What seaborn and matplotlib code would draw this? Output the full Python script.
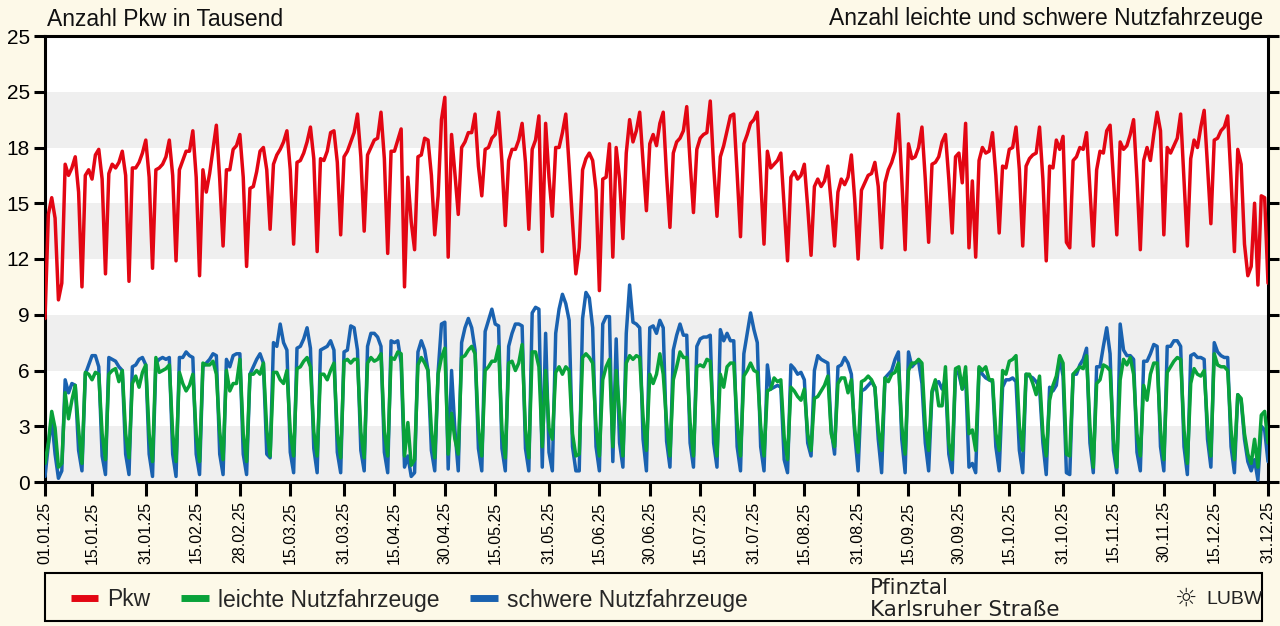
import matplotlib
matplotlib.use("Agg")
import matplotlib.pyplot as plt
import matplotlib.dates as mdates
from matplotlib.lines import Line2D
from matplotlib.patches import Rectangle
import pandas as pd
import seaborn as sns

# ---------------- data (daily values, 01.01.2025 - 31.12.2025) ----------------
pkw = [
    8.8, 14.4, 15.3, 14.2, 9.8,
    10.7, 17.1, 16.5, 16.9, 17.5, 15.6, 10.5,
    16.5, 16.8, 16.3, 17.6, 17.9, 16.3, 11.2,
    16.6, 17.1, 16.9, 17.2, 17.8, 16.5, 10.8,
    16.9, 16.9, 17.2, 17.7, 18.4, 16.4, 11.5,
    16.8, 16.9, 17.1, 17.5, 18.4, 16.5, 11.9,
    16.8, 17.3, 17.8, 17.8, 18.9, 16.4, 11.1,
    16.8, 15.6, 16.6, 17.9, 19.2, 16.3, 12.7,
    16.8, 16.8, 17.9, 18.1, 18.7, 16.4, 11.6,
    15.8, 15.9, 16.7, 17.8, 18.0, 16.8, 13.6,
    17.1, 17.6, 17.9, 18.3, 18.9, 16.8, 12.8,
    17.2, 17.3, 17.7, 18.3, 19.1, 17.4, 12.4,
    17.4, 17.3, 17.8, 18.8, 18.9, 17.2, 13.3,
    17.5, 17.8, 18.3, 18.8, 19.8, 17.5, 13.5,
    17.6, 18.0, 18.4, 18.5, 19.9, 17.4, 12.3,
    17.8, 17.8, 18.4, 19.0, 10.5, 16.4, 14.0,
    12.5, 17.5, 17.6, 18.5, 18.4, 16.5, 13.3,
    15.4, 19.5, 20.7, 12.1, 18.7, 16.6, 14.4,
    18.0, 18.3, 18.8, 18.8, 19.8, 17.0, 15.4,
    17.9, 18.0, 18.5, 18.7, 19.9, 17.2, 13.8,
    17.3, 17.9, 17.9, 18.4, 19.3, 17.2, 13.6,
    17.9, 18.4, 19.7, 12.4, 19.3, 16.4, 14.3,
    18.0, 18.0, 18.8, 19.8, 17.0, 14.0, 11.2,
    12.6, 16.8, 17.4, 17.7, 17.3, 15.7, 10.3,
    16.3, 16.4, 18.2, 12.1, 18.0, 16.3, 13.1,
    17.7, 19.5, 18.3, 18.9, 19.9, 17.2, 14.6,
    18.2, 18.7, 18.1, 19.3, 19.9, 16.5, 13.7,
    17.7, 18.3, 18.5, 18.9, 20.2, 17.2, 14.5,
    17.9, 18.5, 18.7, 18.8, 20.5, 17.0, 14.3,
    17.5, 18.1, 18.9, 19.7, 19.8, 16.6, 13.2,
    18.2, 18.7, 19.3, 19.5, 19.9, 16.3, 12.8,
    17.8, 16.9, 17.1, 17.3, 17.7, 14.8, 11.9,
    16.4, 16.7, 16.3, 16.5, 17.1, 14.8, 12.2,
    15.9, 16.3, 15.9, 16.2, 17.0, 15.0, 12.7,
    15.6, 16.3, 16.0, 16.4, 17.6, 15.2, 12.0,
    15.7, 16.1, 16.5, 16.6, 17.2, 15.9, 12.6,
    16.1, 16.8, 17.2, 17.8, 19.8, 16.3, 12.5,
    18.2, 17.4, 17.5, 18.0, 19.1, 16.3, 12.9,
    17.1, 17.2, 17.5, 18.3, 18.7, 16.3, 13.4,
    17.5, 17.7, 16.1, 19.3, 12.6, 16.2, 12.1,
    17.3, 18.0, 17.7, 17.8, 18.8, 16.5, 13.4,
    17.0, 16.9, 17.9, 18.0, 19.1, 16.8, 12.7,
    17.0, 17.4, 17.6, 17.7, 19.1, 16.3, 11.9,
    17.0, 16.9, 18.4, 17.9, 18.6, 12.9, 12.6,
    17.3, 17.5, 18.0, 17.9, 18.8, 15.7, 12.7,
    16.8, 17.8, 17.7, 18.9, 19.2, 16.3, 13.3,
    18.3, 17.9, 18.1, 18.7, 19.5, 16.3, 12.5,
    17.3, 18.0, 17.3, 18.7, 19.9, 18.9, 13.3,
    18.0, 17.7, 18.1, 18.5, 19.8, 16.3, 12.7,
    17.4, 18.4, 18.0, 19.1, 20.0, 17.0, 13.9,
    18.4, 18.5, 18.9, 19.1, 19.7, 16.3, 12.4,
    17.9, 17.1, 12.8, 11.1, 11.6, 15.0, 10.6,
    15.4, 15.3, 10.7,
]

leichte = [
    1.0, 2.1, 3.8, 2.9, 0.8,
    1.0, 4.8, 3.4, 4.4, 5.2, 2.8, 1.0,
    5.9, 5.8, 5.5, 5.9, 5.8, 2.6, 1.2,
    5.8, 6.0, 6.1, 5.4, 6.0, 2.6, 1.3,
    5.3, 5.7, 5.1, 5.9, 6.3, 2.6, 1.1,
    6.7, 5.9, 6.0, 6.1, 6.3, 2.6, 1.1,
    5.9, 5.3, 4.9, 5.2, 5.8, 2.6, 1.1,
    6.4, 6.3, 6.3, 6.5, 5.8, 2.7, 1.2,
    6.0, 4.9, 5.3, 5.3, 6.6, 2.6, 1.1,
    5.8, 5.8, 6.0, 5.8, 6.4, 2.8, 1.4,
    5.9, 5.9, 5.5, 5.3, 6.0, 2.7, 1.4,
    6.1, 6.2, 6.5, 6.7, 6.2, 2.7, 1.4,
    5.8, 5.8, 5.5, 6.0, 6.4, 2.6, 1.3,
    6.5, 6.6, 6.4, 6.6, 6.6, 2.7, 1.3,
    6.4, 6.7, 6.5, 6.6, 6.9, 2.7, 1.4,
    6.7, 6.6, 7.0, 6.9, 1.4, 3.2, 0.9,
    1.2, 6.3, 6.7, 6.4, 6.0, 2.8, 1.3,
    5.8, 6.7, 7.2, 1.5, 3.7, 2.3, 1.5,
    6.7, 6.8, 7.1, 7.3, 6.9, 2.9, 1.4,
    6.0, 6.2, 6.5, 6.5, 7.3, 2.8, 1.3,
    6.4, 6.5, 6.0, 6.4, 7.4, 2.8, 1.3,
    7.0, 7.0, 6.2, 1.9, 6.0, 2.9, 2.3,
    5.9, 6.2, 5.8, 6.2, 6.0, 2.6, 1.4,
    1.5, 6.7, 6.9, 6.7, 6.4, 3.0, 1.4,
    5.5, 6.2, 6.6, 1.9, 6.0, 3.7, 1.4,
    6.4, 6.8, 6.6, 6.8, 6.7, 3.5, 1.7,
    5.8, 5.3, 5.8, 6.9, 5.8, 3.2, 1.4,
    5.5, 6.2, 7.0, 6.7, 6.7, 3.2, 1.4,
    6.2, 6.3, 6.2, 6.6, 6.5, 3.2, 1.4,
    5.8, 5.1, 6.2, 6.4, 6.4, 3.2, 1.4,
    5.7, 6.0, 6.4, 6.0, 5.9, 3.0, 1.4,
    4.9, 5.0, 5.6, 5.4, 5.5, 2.4, 1.2,
    5.1, 4.9, 4.6, 4.4, 5.0, 2.6, 1.7,
    4.5, 4.6, 4.9, 5.2, 5.7, 2.6, 1.9,
    5.3, 5.6, 5.6, 4.8, 5.5, 2.8, 1.6,
    5.4, 5.5, 5.7, 5.5, 5.1, 2.8, 1.7,
    5.6, 5.4, 5.8, 5.9, 6.4, 3.0, 1.5,
    6.0, 6.4, 6.4, 6.6, 6.4, 3.0, 1.7,
    4.9, 5.5, 4.1, 4.1, 6.2, 2.1, 1.2,
    6.1, 6.2, 5.0, 6.2, 2.6, 2.8, 1.7,
    6.2, 6.0, 6.2, 5.5, 5.5, 2.6, 1.7,
    6.0, 5.8, 6.5, 6.6, 6.8, 3.0, 1.7,
    5.8, 5.8, 5.3, 4.7, 5.7, 2.6, 1.4,
    4.4, 5.2, 5.7, 6.8, 6.4, 1.5, 1.4,
    5.8, 6.0, 6.2, 6.1, 6.8, 3.0, 0.8,
    5.3, 5.5, 6.3, 6.2, 6.0, 2.3, 0.8,
    5.5, 6.6, 6.3, 6.7, 5.8, 2.6, 1.4,
    5.2, 4.4, 5.8, 6.4, 6.4, 2.8, 1.2,
    5.9, 6.2, 6.5, 6.7, 6.6, 2.8, 1.0,
    5.3, 6.1, 5.8, 5.7, 6.0, 3.0, 1.4,
    6.9, 6.3, 6.2, 6.2, 6.0, 2.8, 1.2,
    4.7, 4.5, 2.6, 1.5, 1.0, 2.3, 0.8,
    3.6, 3.8, 2.1,
]

schwere = [
    0.3, 2.0, 3.4, 1.5, 0.2,
    0.6, 5.5, 4.8, 5.3, 5.2, 1.7, 0.6,
    5.8, 6.3, 6.8, 6.8, 6.2, 1.4, 0.4,
    6.7, 6.6, 6.5, 6.2, 6.0, 1.5, 0.4,
    6.2, 6.3, 6.6, 6.7, 6.3, 1.5, 0.3,
    6.4, 6.6, 6.7, 6.6, 6.7, 1.5, 0.3,
    6.7, 6.7, 7.0, 6.8, 6.7, 1.5, 0.4,
    6.2, 6.4, 6.6, 6.9, 6.8, 1.5, 0.4,
    6.6, 6.2, 6.8, 6.9, 6.9, 1.5, 0.4,
    5.8, 6.2, 6.6, 6.9, 6.4, 1.5, 1.3,
    7.5, 7.3, 8.5, 7.5, 7.1, 1.6, 0.5,
    7.2, 7.3, 7.7, 8.3, 7.2, 1.8, 0.5,
    7.1, 7.2, 7.3, 7.6, 7.1, 1.6, 0.5,
    7.0, 7.1, 8.4, 8.3, 7.1, 1.7, 0.6,
    7.3, 8.0, 8.0, 7.8, 7.3, 1.6, 0.5,
    7.6, 7.5, 7.6, 6.4, 0.8, 1.4, 0.3,
    0.5, 7.0, 7.6, 7.1, 6.0, 1.7, 0.6,
    5.9, 8.5, 8.6, 0.7, 6.0, 2.8, 0.6,
    7.5, 8.3, 8.8, 8.3, 7.1, 1.8, 0.6,
    8.1, 8.7, 9.3, 8.5, 8.4, 1.8, 0.6,
    7.3, 8.0, 8.5, 8.5, 8.4, 1.8, 0.6,
    9.1, 9.4, 9.3, 0.8, 8.0, 1.6, 0.6,
    8.0, 9.3, 10.1, 9.6, 8.7, 1.9, 0.6,
    0.6, 8.8, 10.2, 9.9, 8.3, 1.9, 0.6,
    8.5, 8.9, 8.9, 1.1, 7.7, 2.1, 0.8,
    8.0, 10.6, 8.6, 8.5, 8.3, 2.3, 0.6,
    8.3, 8.4, 8.0, 8.7, 8.3, 2.2, 0.8,
    7.1, 7.9, 8.5, 7.9, 7.9, 2.1, 0.8,
    7.3, 7.7, 7.8, 7.8, 7.9, 2.1, 0.8,
    8.2, 7.6, 8.0, 7.6, 7.6, 1.9, 0.6,
    6.9, 8.0, 9.1, 8.2, 7.5, 1.9, 0.6,
    6.3, 5.0, 5.1, 5.2, 5.1, 1.2, 0.5,
    6.3, 6.1, 5.8, 5.9, 5.5, 2.1, 1.4,
    6.0, 6.8, 6.6, 6.5, 6.4, 2.8, 1.5,
    6.2, 6.3, 6.7, 6.4, 5.8, 2.6, 0.6,
    4.9, 5.0, 5.2, 5.4, 5.1, 2.3, 0.5,
    5.6, 5.8, 6.0, 6.6, 7.0, 2.3, 0.5,
    7.0, 6.2, 6.4, 6.5, 5.3, 2.1, 0.6,
    4.8, 5.3, 5.4, 5.0, 5.5, 1.5, 0.5,
    6.0, 5.8, 5.0, 5.7, 0.8, 1.0, 0.5,
    6.1, 5.8, 5.6, 5.5, 5.4, 1.9, 0.6,
    5.1, 5.5, 5.5, 5.6, 5.4, 1.7, 0.5,
    5.8, 5.7, 5.6, 5.4, 5.1, 2.1, 0.4,
    5.1, 4.9, 5.2, 6.7, 5.7, 0.5, 0.4,
    5.8, 5.8, 6.3, 6.6, 7.2, 2.1, 0.5,
    6.2, 6.2, 7.3, 8.3, 6.9, 1.7, 0.5,
    8.5, 7.1, 6.8, 6.8, 6.6, 1.6, 0.6,
    6.5, 6.5, 6.9, 7.4, 7.3, 1.9, 0.6,
    7.3, 7.3, 7.6, 7.6, 7.3, 1.9, 0.4,
    6.8, 6.9, 6.7, 6.7, 6.6, 2.3, 0.8,
    7.5, 7.0, 6.8, 6.7, 6.7, 1.9, 0.5,
    4.7, 4.4, 2.3, 1.1, 0.6, 1.2, 0.1,
    3.0, 2.8, 1.1,
]

dates = pd.date_range("2025-01-01", "2025-12-31", freq="D")

tick_dates = ["2025-01-01", "2025-01-15", "2025-01-31", "2025-02-15", "2025-02-28",
              "2025-03-15", "2025-03-31", "2025-04-15", "2025-04-30", "2025-05-15",
              "2025-05-31", "2025-06-15", "2025-06-30", "2025-07-15", "2025-07-31",
              "2025-08-15", "2025-08-31", "2025-09-15", "2025-09-30", "2025-10-15",
              "2025-10-31", "2025-11-15", "2025-11-30", "2025-12-15", "2025-12-31"]
y_ticks = [0, 3, 6, 9, 12, 15, 18, 21, 24]
y_tick_labels = ["0", "3", "6", "9", "12", "15", "18", "25", "25"]
band_starts = [0, 6, 12, 18]

series_names = ["Pkw", "leichte Nutzfahrzeuge", "schwere Nutzfahrzeuge"]
title_left = "Anzahl Pkw in Tausend"
title_right = "Anzahl leichte und schwere Nutzfahrzeuge"
station_lines = ["Pfinztal", "Karlsruher Straße"]

# ---------------- styling ----------------
RED = "#E30613"
GREEN = "#09A23A"
BLUE = "#1A62B0"
BG = "#FDF9E8"
BAND = "#EFEFEF"

sns.set_style("white")
plt.rcParams["font.family"] = ["Liberation Sans", "DejaVu Sans"]

df = pd.DataFrame({"Datum": dates, "Pkw": pkw, "leichte": leichte, "schwere": schwere})

W, H = 1280, 626
fig = plt.figure(figsize=(W / 100, H / 100), dpi=100, facecolor=BG)
ax = fig.add_axes([45 / W, 1 - 482 / H, (1268 - 45) / W, (482 - 36) / H])
ax.set_facecolor("white")

for lo in band_starts:
    ax.axhspan(lo, lo + 3, color=BAND, lw=0, zorder=0)

lw = 2.5
sns.lineplot(data=df, x="Datum", y="schwere", color=BLUE, lw=lw, ax=ax, zorder=3)
sns.lineplot(data=df, x="Datum", y="leichte", color=GREEN, lw=lw, ax=ax, zorder=4)
sns.lineplot(data=df, x="Datum", y="Pkw", color=RED, lw=lw, ax=ax, zorder=5)

ax.set_xlim(dates[0], dates[-1])
ax.set_ylim(0, 24)
ax.set_xlabel("")
ax.set_ylabel("")

ax.set_yticks(y_ticks)
ax.set_yticklabels(y_tick_labels)
ax.set_xticks(pd.to_datetime(tick_dates))
ax.xaxis.set_major_formatter(mdates.DateFormatter("%d.%m.%y"))

for s in ax.spines.values():
    s.set_visible(True)
    s.set_color("black")
    s.set_linewidth(2.2)

ax.tick_params(axis="y", which="major", left=True, right=True, labelleft=True,
               labelright=False, direction="out", length=8, width=2.2,
               labelsize=15, pad=3, colors="black")
ax.tick_params(axis="x", which="major", bottom=True, direction="out", length=10,
               width=2.2, labelsize=11.5, labelrotation=90, pad=4, colors="black")
ax.grid(False)

fig.text(47 / W, 1 - 19 / H, title_left, ha="left", va="center", fontsize=16.5, color="#111111")
fig.text(1263 / W, 1 - 19 / H, title_right, ha="right", va="center", fontsize=16.5, color="#111111")

# legend frame
fig.patches.append(Rectangle((45 / W, 1 - 621 / H), (1262 - 45) / W, (621 - 573) / H,
                             transform=fig.transFigure, fill=False, edgecolor="black",
                             lw=1.5))
handles = [Line2D([], [], color=c, lw=5, solid_capstyle="butt") for c in (RED, GREEN, BLUE)]
fig.legend(handles, series_names, loc="center left", bbox_to_anchor=(50 / W, 1 - 600 / H),
           ncol=3, frameon=False, fontsize=16.5, handlelength=1.2, handletextpad=0.4,
           columnspacing=1.35)
fig.text(870 / W, 1 - 588 / H, station_lines[0], ha="left", va="center", fontsize=15.5,
         family="DejaVu Sans", color="#222222")
fig.text(870 / W, 1 - 610 / H, station_lines[1], ha="left", va="center", fontsize=15.5,
         family="DejaVu Sans", color="#222222")
fig.text(1186 / W, 1 - 599 / H, "☼", ha="center", va="center", fontsize=18,
         family="DejaVu Sans", color="#222222")
fig.text(1234 / W, 1 - 599 / H, "LUBW", ha="center", va="center", fontsize=14,
         color="#222222")

fig.savefig("out.png", dpi=100, facecolor=BG)
